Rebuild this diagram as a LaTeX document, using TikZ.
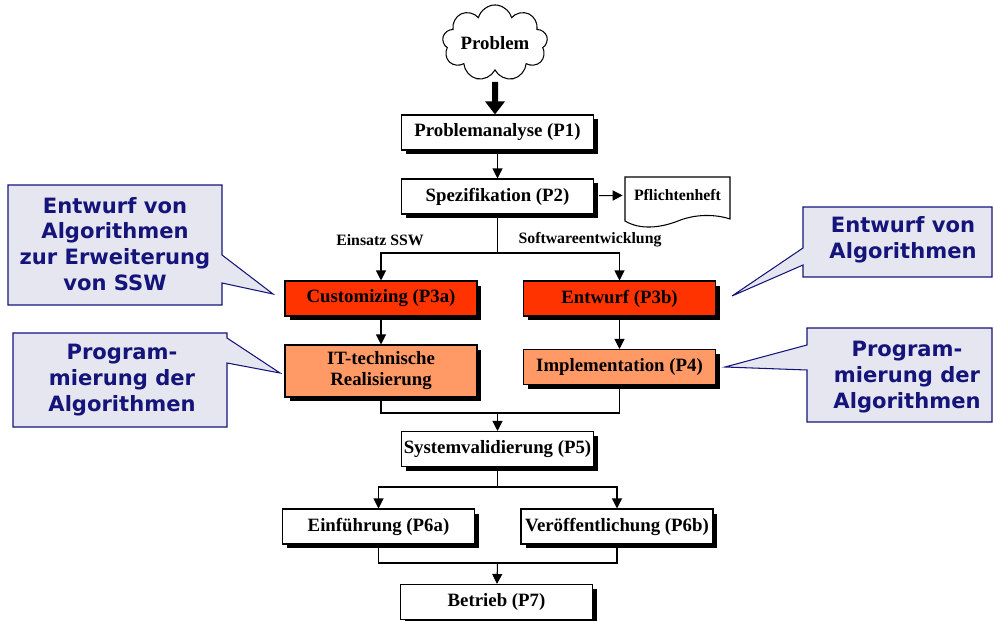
\documentclass[tikz,border=0pt]{standalone}
\usepackage{fontspec}
\setmainfont{Liberation Serif}
\newfontfamily\calloutfamily{DejaVu Sans}
\usetikzlibrary{arrows.meta,shapes.symbols,shadows}
\definecolor{procred}{HTML}{FF3300}
\definecolor{procorange}{HTML}{FF9966}
\definecolor{notefill}{HTML}{E6E6F0}
\definecolor{notenavy}{HTML}{14147A}
\newcommand\procfont{\fontsize{10.7}{12}\selectfont\bfseries}
\newcommand\lblfont{\fontsize{9}{10}\selectfont\bfseries}
\newcommand\notefont{\calloutfamily\fontsize{12}{14.7}\selectfont\bfseries}

\begin{document}
\begin{tikzpicture}[x=0.02cm, y=-0.02cm,
  proc/.style={draw, fill=white, line width=0.6pt, font=\procfont,
    minimum width=3.84cm, minimum height=0.7cm, inner sep=1pt, align=center,
    drop shadow={shadow xshift=0.09cm, shadow yshift=-0.09cm, fill=black, opacity=1}},
  lbl/.style={font=\lblfont, inner sep=1pt},
  arr/.style={-{Triangle[width=0.2cm,length=0.2cm]}, line width=0.6pt},
  bigarr/.style={-{Triangle[width=0.38cm,length=0.26cm]}, line width=0.12cm},
  line/.style={line width=0.6pt},
  note/.style={draw=notenavy, fill=notefill, line width=0.6pt},
  notetext/.style={font=\notefont, text=notenavy, align=center}]
\useasboundingbox (0,0) rectangle (994,621);
% ---------------- callouts ----------------
\draw[note] (8,185) -- (222,185) -- (222,255) -- (273,294) -- (222,283)
  -- (222,305) -- (8,305) -- cycle;
\node[notetext] (n1) at (115,244) {Entwurf von\\Algorithmen\\zur Erweiterung\\von SSW};
\draw[note] (803,207) -- (992,207) -- (992,277) -- (803,277) -- (803,265)
  -- (732,296) -- (803,248) -- cycle;
\node[notetext] (n2) at (903,240) {Entwurf von\\Algorithmen};
\draw[note] (13,333) -- (227,333) -- (227,338) -- (280,373) -- (227,363)
  -- (227,427) -- (13,427) -- cycle;
\node[notetext] (n3) at (122,380) {Program-\\mierung der\\Algorithmen};
\draw[note] (807,328) -- (992,328) -- (992,422) -- (807,422) -- (807,370)
  -- (725,367) -- (807,345) -- cycle;
\node[notetext] (n4) at (907,377) {Program-\\mierung der\\Algorithmen};
% ---------------- process chain ----------------
\node[cloud, cloud puffs=9, aspect=1.8, draw, line width=0.6pt, fill=white,
  minimum width=1.75cm, minimum height=0.95cm, inner sep=0pt, font=\procfont]
  (prob) at (495,43) {Problem};
\node[proc] (P1) at (497.5,132.5) {Problemanalyse (P1)};
\node[proc] (P2) at (497.5,196.5) {Spezifikation (P2)};
\node[proc, fill=procred] (P3a) at (381,298.5) {Customizing (P3a)};
\node[proc, fill=procred] (P3b) at (619.5,298.5) {Entwurf (P3b)};
\node[proc, fill=procorange, minimum height=1.04cm] (IT) at (381,371)
  {IT-technische\\Realisierung};
\node[proc, fill=procorange] (P4) at (619.5,367) {Implementation (P4)};
\node[proc] (P5) at (497.5,449) {Systemvalidierung (P5)};
\node[proc] (P6a) at (378.5,526.5) {Einführung (P6a)};
\node[proc] (P6b) at (617,526.5) {Veröffentlichung (P6b)};
\node[proc] (P7) at (496.5,602) {Betrieb (P7)};
% document
\draw[line] (625,177) -- (730,177) -- (730,219)
  .. controls (715,214) and (695,214) .. (678,221)
  .. controls (660,228) and (640,230) .. (625,221) -- cycle;
\node[lbl, minimum width=2.1cm, inner sep=0pt] (pfl) at (677.5,195) {Pflichtenheft};
% ---------------- connectors ----------------
\draw[bigarr] (495,82) -- (prob.south |- P1.north);
\draw[arr] (P1) -- (P2);
\draw[arr, shorten <=0.1cm, shorten >=0.04cm] (P2) -- (pfl);
\coordinate (fork1) at (497.5,253);
\draw[line] (P2) -- (fork1);
\draw[arr] (fork1) -| (P3a);
\draw[arr] (fork1) -| (P3b);
\node[lbl] (ssw) at (380,240) {Einsatz SSW};
\node[lbl] (swe) at (590,240) {Softwareentwicklung};
\draw[arr] (P3a) -- (IT);
\draw[arr] (P3b) -- (P4);
\coordinate (join1) at (497.5,413);
\draw[line] (IT) |- (join1) -| (P4);
\draw[arr] (join1) -- (P5);
\coordinate (fork2) at (497.5,487);
\draw[line] (P5) -- (fork2);
\draw[arr] (fork2) -| (P6a);
\draw[arr] (fork2) -| (P6b);
\coordinate (join2) at (497.5,563);
\draw[line] (P6a) |- (join2) -| (P6b);
\draw[arr] (join2) -- (P7);
\end{tikzpicture}
\end{document}
